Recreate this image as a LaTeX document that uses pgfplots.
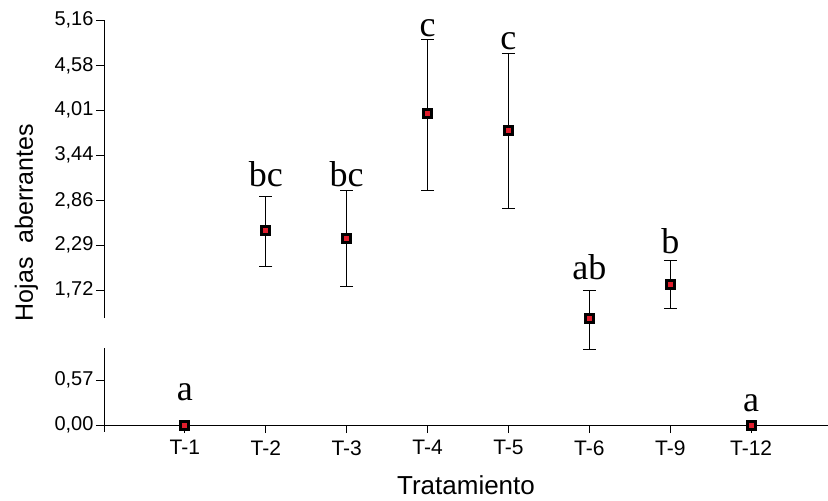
\documentclass[border=0pt]{standalone}
\usepackage{pgfplots}
\pgfplotsset{compat=1.18}
\usepackage{fontspec}
\setmainfont{Liberation Sans}
\newfontfamily\serifletters{Liberation Serif}
\definecolor{mk}{RGB}{225,30,45}
\begin{document}
\begin{tikzpicture}
\begin{axis}[
  at={(0,0)}, anchor=south west,
  scale only axis, width=724pt, height=405pt,
  xmin=0, xmax=8.95, ymin=0, ymax=5.16,
  axis lines=left,
  x axis line style={-, line width=0.8pt},
  y axis line style={draw=none},
  tick align=outside,
  major tick length=8pt,
  tick style={black, line width=0.8pt},
  xtick={1,...,8},
  xticklabels={T-1,T-2,T-3,T-4,T-5,T-6,T-9,T-12},
  ytick={0,0.57,1.72,2.29,2.86,3.44,4.01,4.58,5.16},
  yticklabels={{0,00},{0,57},{1,72},{2,29},{2,86},{3,44},{4,01},{4,58},{5,16}},
  xticklabel style={font=\fontsize{21}{25}\selectfont, yshift=-4pt},
  yticklabel style={font=\fontsize{20}{24}\selectfont, xshift=1pt},
  xlabel={Tratamiento},
  ylabel={Hojas\ \ aberrantes},
  xlabel style={font=\fontsize{26}{30}\selectfont, at={(axis description cs:0.5,-0.1728)}, anchor=base},
  ylabel style={font=\fontsize{25}{30}\selectfont, at={(axis description cs:-0.0981,0.5)}, anchor=base},
  clip=false,
]
\draw[line width=0.8pt] (axis cs:0,-0.089) -- (axis cs:0,0.981);
\draw[line width=0.8pt] (axis cs:0,1.363) -- (axis cs:0,5.16);

\addplot[only marks, mark=square*, mark size=4pt,
  mark options={draw=black, fill=mk, line width=3pt},
  error bars/.cd, y dir=both, y explicit,
  error bar style={black, line width=0.8pt},
  error mark=-,
  error mark options={rotate=90, black, line width=0.8pt, mark size=6.5pt}]
coordinates {
  (2,2.484) += (0,0.425) -= (0,0.467)
  (3,2.379) += (0,0.615) -= (0,0.617)
  (4,3.971) += (0,0.943) -= (0,0.977)
  (5,3.750) += (0,0.986) -= (0,0.989)
  (6,1.359) += (0,0.352) -= (0,0.395)
  (7,1.796) += (0,0.297) -= (0,0.309)
};
\addplot[only marks, mark=square*, mark size=4pt,
  mark options={draw=black, fill=mk, line width=3pt}]
coordinates {(1,0) (8,0)};

\begin{scope}[every node/.style={font=\serifletters\fontsize{36}{40}\selectfont, anchor=base, inner sep=0pt}]
\node at (axis cs:1,0.318) {a};
\node at (axis cs:2,3.036) {bc};
\node at (axis cs:3,3.036) {bc};
\node at (axis cs:4,4.947) {c};
\node at (axis cs:5,4.778) {c};
\node at (axis cs:6,1.856) {ab};
\node at (axis cs:7,2.188) {b};
\node at (axis cs:8,0.169) {a};
\end{scope}
\end{axis}
\pgfresetboundingbox
\path[use as bounding box] (-104pt,-76pt) rectangle (724pt,425pt);
\end{tikzpicture}
\end{document}
